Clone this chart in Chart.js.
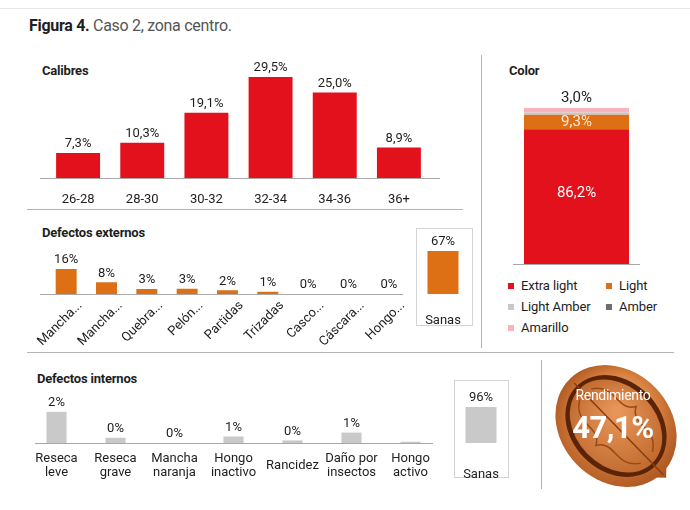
<!DOCTYPE html>
<html>
<head>
<meta charset="utf-8">
<script src="https://cdn.jsdelivr.net/npm/chart.js@4.4.0/dist/chart.umd.min.js"></script>
<style>
body { margin: 0; background: #fff; }
#wrap { position: relative; width: 690px; height: 510px; overflow: hidden; font-family: Roboto, "Noto Sans", sans-serif; color: #1e1e1e; }
#wrap canvas, .abs { position: absolute; }
.rule { position: absolute; background: #b4b4b4; }
.sec { position: absolute; font-size: 13px; font-weight: bold; line-height: 18px; letter-spacing: -0.2px; }
.box { position: absolute; border: 1px solid #d4d4d4; box-sizing: border-box; }
#legend { position: absolute; left: 508px; top: 278px; display: grid; grid-template-columns: 98px auto; grid-auto-rows: 21px; font-size: 13px; letter-spacing: -0.1px; }
#legend span.k { display: inline-block; width: 6px; height: 6px; margin-right: 7px; vertical-align: middle; position: relative; top: -1px; }
.nuttxt { position: absolute; width: 120px; left: 553px; text-align: center; color: #fff; }
</style>
</head>
<body>
<div id="wrap">
	<div class="rule" style="left:0;top:8px;width:690px;height:1px;background:#e6e6e6"></div>
	<div class="abs" style="left:29px;top:16px;font-size:16px;line-height:20px;white-space:nowrap;letter-spacing:-0.3px"><b>Figura 4.</b> <span style="color:#555">Caso 2, zona centro.</span></div>

	<div class="sec" style="left:42px;top:62px">Calibres</div>
	<div class="sec" style="left:509px;top:62px">Color</div>
	<div class="sec" style="left:42px;top:224px">Defectos externos</div>
	<div class="sec" style="left:37px;top:370px">Defectos internos</div>

	<div class="rule" style="left:27px;top:209px;width:436px;height:1px"></div>
	<div class="rule" style="left:27px;top:352px;width:647px;height:1px"></div>
	<div class="rule" style="left:481px;top:55px;width:1px;height:293px"></div>
	<div class="rule" style="left:541px;top:360px;width:1px;height:129px"></div>

	<div class="box" style="left:416px;top:228px;width:57px;height:98px"></div>
	<div class="box" style="left:454px;top:380px;width:55px;height:98px"></div>

	<canvas id="calibresChart" width="420" height="170" style="left:30px;top:40px"></canvas>
	<canvas id="externosChart" width="420" height="130" style="left:0;top:240px"></canvas>
	<canvas id="externosSanasChart" width="114" height="95" style="left:386px;top:229px"></canvas>
	<canvas id="internosChart" width="440" height="95" style="left:10px;top:385px"></canvas>
	<canvas id="internosSanasChart" width="112" height="100" style="left:425px;top:381px"></canvas>
	<canvas id="colorChart" width="150" height="185" style="left:500px;top:85px"></canvas>
	<div id="legend"></div>

	<canvas id="nut" width="136" height="136" style="left:548px;top:358px"></canvas>
	<div class="nuttxt" style="top:386px;font-size:14px;line-height:18px;letter-spacing:-0.3px">Rendimiento</div>
	<div class="nuttxt" id="rend" style="top:408px;font-size:31px;line-height:40px;font-weight:bold;letter-spacing:-0.5px"></div>
</div>
<script>
// datos de la figura
const calibreLabels = ['26-28', '28-30', '30-32', '32-34', '34-36', '36+'];
const calibreValues = [7.3, 10.3, 19.1, 29.5, 25.0, 8.9];

const externosLabels = ['Mancha...', 'Mancha...', 'Quebra...', 'Pelón...', 'Partidas', 'Trizadas', 'Casco...', 'Cáscara...', 'Hongo...'];
const externosValues = [16, 7.5, 3.2, 3.4, 2.4, 1.4, 0, 0, 0];
const externosSanas = 67;

const internosLabels = [['Reseca', 'leve'], ['Reseca', 'grave'], ['Mancha', 'naranja'], ['Hongo', 'inactivo'], ['Rancidez'], ['Daño por', 'insectos'], ['Hongo', 'activo']];
const internosValues = [2.4, 0.4, 0, 0.5, 0.2, 0.8, 0.1];
const internosTexts = ['2%', '0%', '0%', '1%', '0%', '1%', ''];
const internosSanas = 96;

const colorLabels = ['Extra light', 'Light', 'Light Amber', 'Amber', 'Amarillo'];
const colorValues = [86.2, 9.3, 1.5, 0, 3.0];
const colorTexts = ['86,2%', '9,3%', '', '', '3,0%'];
const colorColors = ['#e3111b', '#dd7015', '#c8c8c8', '#6e6e6e', '#f7b4bd'];

const rendimiento = '47,1%';

const fam = 'Roboto, "Noto Sans", sans-serif';
const ink = '#1e1e1e';
const red = '#e3111b';
const orange = '#dd7015';
const grey = '#c9c9c9';

Chart.defaults.font.family = fam;
Chart.defaults.color = ink;

function pct1(v) {
	return v.toFixed(1).replace('.', ',') + '%';
}
function pct0(v) {
	return Math.round(v) + '%';
}

// texto sobre las barras
const valueLabels = {
	id: 'valueLabels',
	afterDatasetsDraw: function (chart) {
		var ctx = chart.ctx;
		chart.data.datasets.forEach(function (ds, di) {
			if (!ds.texts) return;
			chart.getDatasetMeta(di).data.forEach(function (bar, i) {
				var t = ds.texts[i];
				if (!t) return;
				ctx.save();
				ctx.font = ds.textFont || ('13px ' + fam);
				ctx.fillStyle = ds.textColor || ink;
				ctx.textAlign = 'center';
				ctx.textBaseline = 'middle';
				if (ds.textPos === 'center') {
					ctx.fillText(t, bar.x, (bar.y + bar.base) / 2 + (ds.textShift || 0));
				} else {
					ctx.fillText(t, bar.x, bar.y - 9);
				}
				ctx.restore();
			});
		});
	}
};

// linea base del eje
const baseLine = {
	id: 'baseLine',
	afterDatasetsDraw: function (chart, args, opts) {
		var a = chart.chartArea, ctx = chart.ctx;
		var y = Math.round(a.bottom) + 0.5;
		ctx.save();
		ctx.strokeStyle = '#a8a8a8';
		ctx.lineWidth = 1;
		ctx.beginPath();
		ctx.moveTo(a.left + (opts.from || 0), y);
		ctx.lineTo(a.right + (opts.to || 0), y);
		ctx.stroke();
		ctx.restore();
	}
};

function barChart(id, labels, datasets, o) {
	return new Chart(document.getElementById(id), {
		type: 'bar',
		data: {
			labels: labels,
			datasets: datasets
		},
		options: {
			responsive: false,
			animation: false,
			events: [],
			layout: { padding: o.pad },
			scales: {
				x: {
					stacked: !!o.stacked,
					grid: { display: false },
					border: { display: false },
					ticks: {
						display: o.ticks !== false,
						color: ink,
						font: { size: 13, lineHeight: o.lh || 1.2 },
						padding: o.tickPad || 3,
						labelOffset: o.shift || 0,
						minRotation: o.rot || 0,
						maxRotation: o.rot || 0,
						crossAlign: o.crossAlign || 'near',
						autoSkip: false
					},
					afterFit: function (s) { s.height = o.axisH; }
				},
				y: {
					display: false,
					stacked: !!o.stacked,
					min: 0,
					max: o.max
				}
			},
			plugins: {
				legend: { display: false },
				tooltip: { enabled: false },
				baseLine: o.line || false
			}
		},
		plugins: [valueLabels, baseLine]
	});
}

barChart('calibresChart', calibreLabels, [{
	data: calibreValues,
	texts: calibreValues.map(pct1),
	backgroundColor: red,
	barPercentage: 0.685,
	categoryPercentage: 1
}], { pad: { left: 16, right: 19, top: 18.3, bottom: 0 }, axisH: 32, max: 35, tickPad: 6, line: { from: -6, to: 9 } });

barChart('externosChart', externosLabels, [{
	data: externosValues,
	texts: externosValues.map(pct0),
	backgroundColor: orange,
	barPercentage: 0.52,
	categoryPercentage: 1
}], { pad: { left: 46, right: 11, top: 22.75, bottom: 0 }, axisH: 76, max: 20, rot: 45, tickPad: -4, shift: 14, line: { from: -6, to: -6 } });

barChart('externosSanasChart', ['Sanas'], [{
	data: [externosSanas],
	texts: [pct0(externosSanas)],
	backgroundColor: orange,
	barPercentage: 0.574,
	categoryPercentage: 1
}], { pad: { left: 30, right: 30, top: 1, bottom: 0 }, axisH: 30, max: 100, tickPad: 11 });

barChart('internosChart', internosLabels, [{
	data: internosValues,
	texts: internosTexts,
	backgroundColor: grey,
	barPercentage: 0.34,
	categoryPercentage: 1
}], { pad: { left: 17, right: 10, top: 19, bottom: 0 }, axisH: 37, max: 3, lh: 1.05, tickPad: 8, crossAlign: 'center', line: { from: 8, to: -7 } });

barChart('internosSanasChart', ['Sanas'], [{
	data: [internosSanas],
	texts: [pct0(internosSanas)],
	backgroundColor: grey,
	barPercentage: 0.596,
	categoryPercentage: 1
}], { pad: { left: 30, right: 30, top: 2, bottom: 0 }, axisH: 38, max: 160, tickPad: 16 });

var colorSets = colorLabels.map(function (name, i) {
	var ds = {
		label: name,
		data: [colorValues[i]],
		texts: [colorTexts[i]],
		backgroundColor: colorColors[i],
		barPercentage: 0.827,
		categoryPercentage: 1,
		textFont: '15px ' + fam
	};
	if (i < 2) {
		ds.textPos = 'center';
		ds.textColor = i === 0 ? '#ffffff' : '#fde9dc';
		ds.textShift = i === 0 ? -3 : 0;
	}
	return ds;
});
barChart('colorChart', ['Color'], colorSets, { pad: { left: 13, right: 10, top: 22.7, bottom: 0 }, axisH: 6, max: 100, ticks: false, stacked: true, line: {} });

// leyenda de color
var legend = document.getElementById('legend');
colorLabels.forEach(function (name, i) {
	var d = document.createElement('div');
	d.innerHTML = '<span class="k" style="background:' + colorColors[i] + '"></span>' + name;
	legend.appendChild(d);
});

document.getElementById('rend').textContent = rendimiento;

// nuez (ilustracion)
(function drawNut() {
	var g = document.getElementById('nut').getContext('2d');
	g.translate(68, 68);
	g.rotate(0.8);
	var sh = g.createRadialGradient(-18, -22, 5, 0, 0, 70);
	sh.addColorStop(0, '#f0ad72');
	sh.addColorStop(0.6, '#d27a3a');
	sh.addColorStop(1, '#a8531f');
	g.fillStyle = sh;
	g.beginPath();
	g.ellipse(0, 0, 66, 55, 0, 0, Math.PI * 2);
	g.fill();
	g.beginPath();
	g.moveTo(58, -14);
	g.lineTo(72, 0);
	g.lineTo(58, 14);
	g.fill();
	g.fillStyle = '#5b2308';
	g.beginPath();
	g.ellipse(0, 0, 56, 45, 0, 0, Math.PI * 2);
	g.fill();
	var k = g.createRadialGradient(-10, -12, 4, 0, 0, 52);
	k.addColorStop(0, '#e8955a');
	k.addColorStop(1, '#c06a2e');
	g.fillStyle = k;
	g.beginPath();
	g.ellipse(0, 0, 52, 40, 0, 0, Math.PI * 2);
	g.fill();
	g.strokeStyle = '#9a4a18';
	g.lineWidth = 1.5;
	[-1, 1].forEach(function (s) {
		g.beginPath();
		g.moveTo(-44, s * 8);
		g.bezierCurveTo(-30, s * 30, -10, s * 10, 0, s * 28);
		g.bezierCurveTo(10, s * 10, 30, s * 30, 44, s * 8);
		g.stroke();
	});
	g.strokeStyle = '#8a3c10';
	g.lineWidth = 1.5;
	g.beginPath();
	g.moveTo(-60, 0);
	g.lineTo(68, 0);
	g.stroke();
})();
</script>
</body>
</html>
